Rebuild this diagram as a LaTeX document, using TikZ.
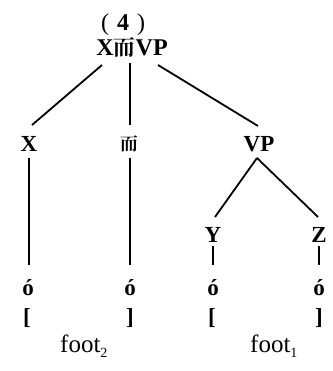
\documentclass[tikz,border=0pt]{standalone}
\usepackage{fontspec}
\setmainfont{Liberation Serif}
\newfontfamily\cjk{Noto Serif CJK SC}
\newcommand{\subdig}[1]{\raisebox{-5pt}{\fontsize{14}{16}\selectfont #1}}
\begin{document}
\begin{tikzpicture}[x=1pt,y=-1pt,
  lab/.style={font=\fontsize{23}{26}\selectfont\bfseries, inner sep=0pt, anchor=base},
  ft/.style={font=\fontsize{25}{28}\selectfont, inner sep=0pt, anchor=base west},
  edge/.style={line width=1.8pt}]
\useasboundingbox (0,0) rectangle (332,371);
\node[lab,font=\fontsize{24}{26}\selectfont] (num) at (123,31) {(\hspace{8pt}\textbf{4}\hspace{8pt})};
\node[lab,font=\fontsize{24}{26}\selectfont\bfseries] (root) at (132,56) {X{\cjk\fontsize{22}{24}\selectfont 而}VP};
\node[lab] (x) at (29,152) {X};
\node[lab] (er) at (129,151) {\cjk\fontsize{18}{20}\selectfont 而};
\node[lab] (vp) at (259,152) {VP};
\node[lab] (y) at (213,242) {Y};
\node[lab] (z) at (319,242) {Z};
\node[lab] (o1) at (28,295) {ó};
\node[lab] (o2) at (130,295) {ó};
\node[lab] (o3) at (213,295) {ó};
\node[lab] (o4) at (319,295) {ó};
\node[lab] (b1) at (27,324) {[};
\node[lab] (b2) at (130,324) {]};
\node[lab] (b3) at (212,324) {[};
\node[lab] (b4) at (319,324) {]};
\node[ft] (f2) at (60,352) {foot\subdig{2}};
\node[ft] (f1) at (250,352) {foot\subdig{1}};
\coordinate (rl) at (102,65);
\coordinate (rm) at (130,63);
\coordinate (rr) at (158,65);
\draw[edge] (rl) -- (32,125) coordinate (xt);
\draw[edge] (rm) -- (130,125) coordinate (et);
\draw[edge] (rr) -- (258,126) coordinate (vt);
\draw[edge] (29,158) coordinate (xb) -- (29,265) coordinate (o1t);
\draw[edge] (130,158) coordinate (eb) -- (130,265) coordinate (o2t);
\draw[edge] (257,158) coordinate (vb) -- (215,217) coordinate (yt);
\draw[edge] (vb) -- (318,217) coordinate (zt);
\draw[edge] (213,246) coordinate (yb) -- (213,265) coordinate (o3t);
\draw[edge] (319,246) coordinate (zb) -- (319,265) coordinate (o4t);
\end{tikzpicture}
\end{document}
